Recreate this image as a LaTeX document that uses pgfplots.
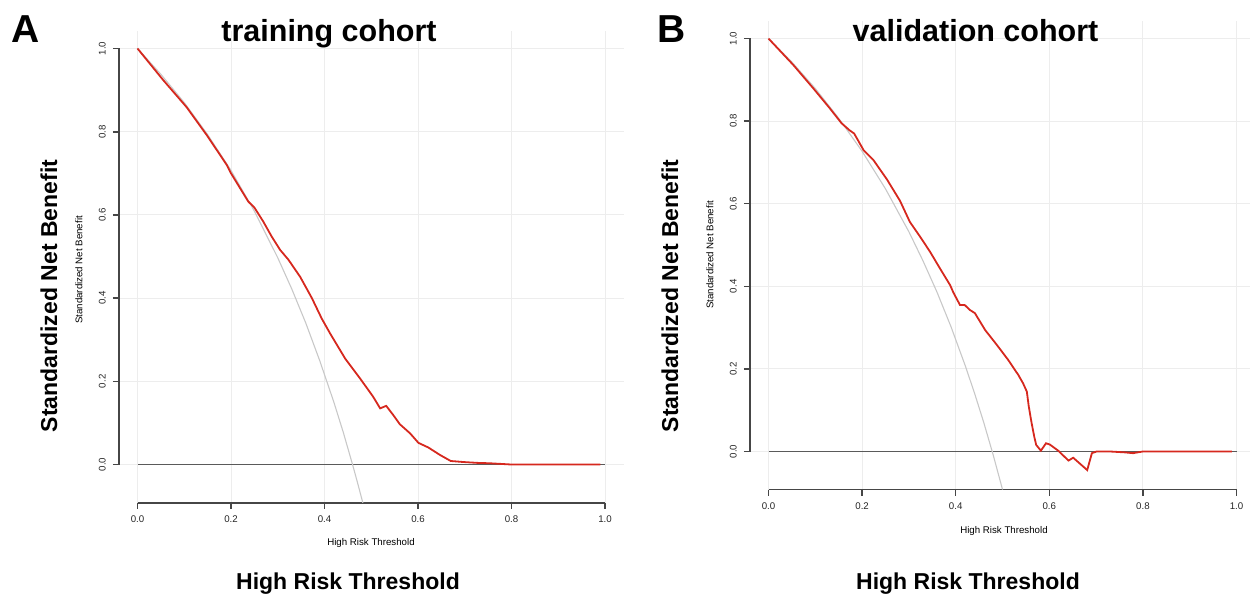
\documentclass[border=0pt]{standalone}
\usepackage{fontspec}
\setmainfont{Liberation Sans}
\usepackage{pgfplots}
\pgfplotsset{compat=1.18}
\definecolor{redline}{RGB}{214,40,30}
\definecolor{allgray}{RGB}{200,200,200}
\definecolor{nonegray}{RGB}{90,90,90}
\definecolor{axisgray}{RGB}{70,70,70}
\pgfplotsset{dcastyle/.style={
  scale only axis,
  anchor=south west,
  xmin=-0.04, ymin=-0.092, ymax=1.042,
  axis x line*=bottom, axis y line*=left,
  axis line style={axisgray, line width=0.9pt},
  y axis line style={draw=none},
  xtick={0,0.2,0.4,0.6,0.8,1}, ytick={0,0.2,0.4,0.6,0.8,1},
  grid=major, major grid style={color=gray!14, line width=0.45pt},
  tick align=outside, major tick length=3pt,
  tick style={axisgray, line width=0.7pt},
  ticklabel style={font=\fontsize{4.85}{5}\selectfont, text=black!85},
  xticklabel style={anchor=north},
  yticklabel style={rotate=90, anchor=south},
  /pgf/number format/.cd, fixed, fixed zerofill, precision=1, assume math mode=true, /pgfplots/.cd,
  clip=false,
}}
\begin{document}
\begin{tikzpicture}
\useasboundingbox (0,0) rectangle (625pt,298pt);
% ---------------- Panel A ----------------
\begin{axis}[dcastyle, at={(59.4pt,46.6pt)}, width=252.45pt, height=235.9pt, xmax=1.04,
  x axis line style={shorten <=9.35pt, shorten >=9.35pt}]
\addplot[nonegray, line width=0.55pt] coordinates {(0,0) (1,0)};
\addplot[allgray, line width=0.55pt] coordinates {
(0,1) (0.05,0.938) (0.10,0.870) (0.15,0.793) (0.20,0.707) (0.25,0.609)
(0.30,0.497) (0.33,0.422) (0.36,0.340) (0.39,0.249) (0.42,0.150)
(0.44,0.078) (0.46,0.000) (0.47,-0.041) (0.482,-0.092)};
\addplot[redline, line width=0.9pt] coordinates {
(0,1.0) (0.055,0.924) (0.105,0.859) (0.148,0.792) (0.191,0.720) (0.200,0.700)
(0.237,0.632) (0.248,0.620) (0.251,0.616) (0.269,0.584) (0.287,0.548)
(0.305,0.516) (0.323,0.492) (0.348,0.451) (0.373,0.400) (0.394,0.351)
(0.412,0.315) (0.444,0.255) (0.476,0.207) (0.504,0.163) (0.519,0.135)
(0.532,0.141) (0.547,0.119) (0.561,0.097) (0.583,0.075) (0.601,0.052)
(0.622,0.041) (0.647,0.023) (0.670,0.0085) (0.697,0.006) (0.726,0.004)
(0.754,0.003) (0.80,0.0) (0.99,0.0)};
\end{axis}
% ---------------- Panel B ----------------
\begin{axis}[dcastyle, at={(374.9pt,53.25pt)}, width=249.9pt, height=234.15pt, xmax=1.028,
  x axis line style={shorten <=9.35pt, shorten >=6.55pt}]
\addplot[nonegray, line width=0.55pt] coordinates {(0,0) (1,0)};
\addplot[allgray, line width=0.55pt] coordinates {
(0,1) (0.05,0.943) (0.10,0.879) (0.15,0.807) (0.20,0.727) (0.25,0.636)
(0.30,0.532) (0.33,0.462) (0.36,0.386) (0.39,0.302) (0.42,0.209)
(0.44,0.142) (0.46,0.070) (0.48,-0.008) (0.50,-0.092)};
\addplot[redline, line width=0.9pt] coordinates {
(0,1.0) (0.053,0.936) (0.096,0.879) (0.131,0.831) (0.156,0.795) (0.173,0.778)
(0.183,0.770) (0.203,0.730) (0.224,0.706) (0.253,0.659) (0.281,0.607)
(0.302,0.556) (0.324,0.520) (0.345,0.484) (0.366,0.444) (0.388,0.403)
(0.395,0.385) (0.409,0.355) (0.419,0.355) (0.430,0.343) (0.441,0.335)
(0.463,0.294) (0.488,0.258) (0.512,0.222) (0.534,0.185) (0.544,0.165)
(0.552,0.145) (0.556,0.110) (0.562,0.070) (0.568,0.035) (0.572,0.016)
(0.582,0.002) (0.593,0.020) (0.601,0.017) (0.619,0.002) (0.641,-0.022)
(0.651,-0.015) (0.681,-0.045) (0.691,-0.004) (0.701,0.0) (0.730,0.0)
(0.760,-0.002) (0.779,-0.004) (0.80,0.0) (0.99,0.0)};
\end{axis}
% ---------------- R-style y axis lines (0 to 1), drawn as thin filled bars ----------------
\fill[axisgray] (58.9pt,65.34pt) rectangle (59.9pt,274.14pt);
\foreach \i in {0,...,5} \fill[axisgray] (56.4pt,{65.34pt+\i*41.6pt}) rectangle (59.4pt,{66.14pt+\i*41.6pt});
\fill[axisgray] (374.4pt,71.85pt) rectangle (375.4pt,279.15pt);
\foreach \i in {0,...,5} \fill[axisgray] (371.9pt,{71.85pt+\i*41.3pt}) rectangle (374.9pt,{72.65pt+\i*41.3pt});
% ---------------- Texts ----------------
\node[anchor=base west, inner sep=0pt, font=\fontsize{19.5}{20}\selectfont\bfseries] at (5.5pt,276.5pt) {A};
\node[anchor=base west, inner sep=0pt, font=\fontsize{19.5}{20}\selectfont\bfseries] at (328.75pt,276.5pt) {B};
\node[anchor=base, inner sep=0pt, font=\fontsize{15.25}{16}\selectfont\bfseries] at (164.5pt,277pt) {training cohort};
\node[anchor=base, inner sep=0pt, font=\fontsize{15.25}{16}\selectfont\bfseries] at (487.75pt,277pt) {validation cohort};
\node[anchor=base, inner sep=0pt, font=\fontsize{11.5}{12}\selectfont\bfseries] at (174pt,3.5pt) {High Risk Threshold};
\node[anchor=base, inner sep=0pt, font=\fontsize{11.5}{12}\selectfont\bfseries] at (484pt,3.5pt) {High Risk Threshold};
\node[anchor=base, inner sep=0pt, rotate=90, font=\fontsize{11.5}{12}\selectfont\bfseries] at (28.5pt,150pt) {Standardized Net Benefit};
\node[anchor=base, inner sep=0pt, rotate=90, font=\fontsize{11.5}{12}\selectfont\bfseries] at (339pt,150pt) {Standardized Net Benefit};
\node[inner sep=0pt, font=\fontsize{4.85}{5}\selectfont] at (185.5pt,26.5pt) {High Risk Threshold};
\node[inner sep=0pt, font=\fontsize{4.85}{5}\selectfont] at (502pt,32.5pt) {High Risk Threshold};
\node[inner sep=0pt, rotate=90, font=\fontsize{4.85}{5}\selectfont] at (39.5pt,163pt) {Standardized Net Benefit};
\node[inner sep=0pt, rotate=90, font=\fontsize{4.85}{5}\selectfont] at (355pt,170.5pt) {Standardized Net Benefit};
\end{tikzpicture}
\end{document}
